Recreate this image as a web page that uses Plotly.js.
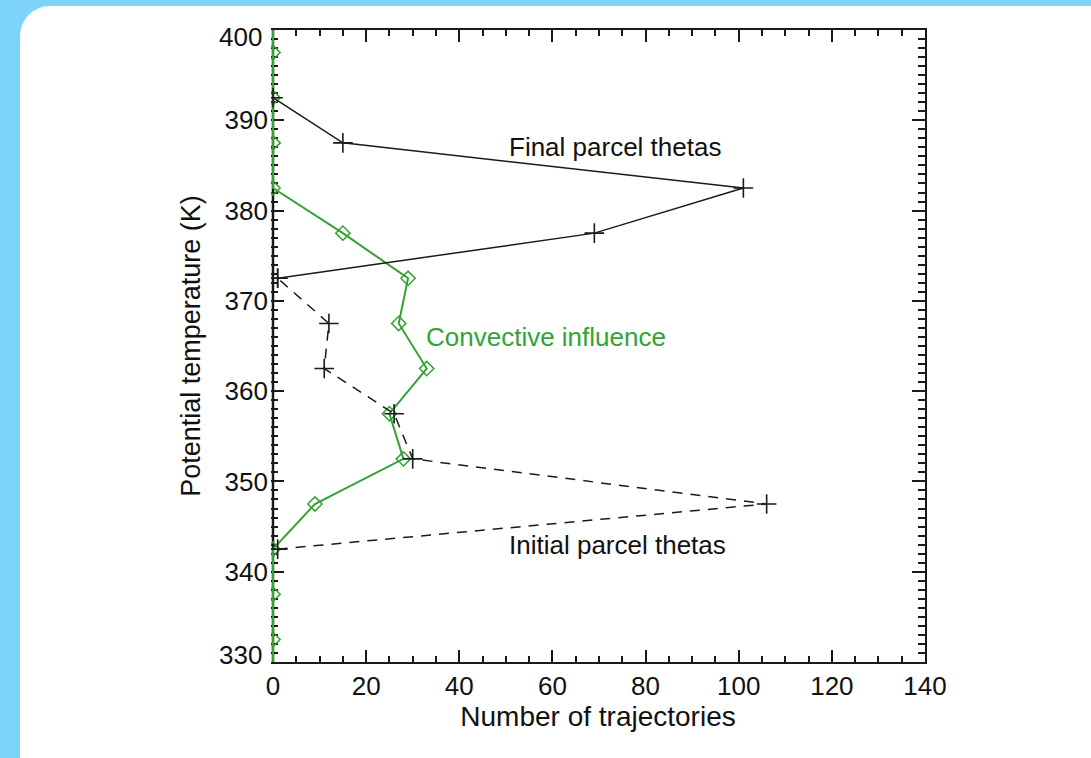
<!DOCTYPE html>
<html>
<head>
<meta charset="utf-8">
<script src="https://cdn.plot.ly/plotly-3.0.1.min.js"></script>
<style>
  html, body { margin:0; padding:0; width:1091px; height:758px; overflow:hidden; background:#7dd3fc; }
  #panel { position:absolute; left:20px; top:6px; width:1100px; height:800px; background:#ffffff; border-radius:30px; }
  #chart { position:absolute; left:0; top:0; width:1091px; height:758px; }
</style>
</head>
<body>
<div id="panel"></div>
<div id="chart"></div>
<script>
// Potential temperature bins (K)
const thetaFinal = [372.5, 377.5, 382.5, 387.5, 392.5];
const countFinal = [1, 69, 101, 15, 0];

const thetaInitial = [342.5, 347.5, 352.5, 357.5, 362.5, 367.5, 372.5];
const countInitial = [1, 106, 30, 26, 11, 12, 1];

const thetaConv = [327.5, 332.5, 337.5, 342.5, 347.5, 352.5, 357.5, 362.5, 367.5, 372.5, 377.5, 382.5, 387.5, 392.5, 397.5, 402.5];
const countConv = [0, 0, 0, 0, 9, 28, 25, 33, 27, 29, 15, 0, 0, 0, 0, 0];

const yTickVals = [330, 340, 350, 360, 370, 380, 390, 400];
const yTickText = ['', '340', '350', '360', '370', '380', '390', ''];
const yEndLabels = ['330', '400'];

const labels = ["Final parcel thetas", "Convective influence", "Initial parcel thetas"];

const GREEN = '#33a333';
const INK = '#1a1a1a';
const FONT = 'Liberation Sans, Arial, sans-serif';
const TICKFONT = { family: FONT, size: 26, color: '#111' };

const traces = [
  { x: countConv, y: thetaConv, mode: 'lines+markers', type: 'scatter',
    line: { color: GREEN, width: 2 },
    marker: { symbol: 'diamond-open', size: 11, color: GREEN, line: { color: GREEN, width: 1.5 } } },
  { x: countFinal, y: thetaFinal, mode: 'lines+markers', type: 'scatter',
    line: { color: INK, width: 1.5 },
    marker: { symbol: 'cross-thin', size: 14, color: INK, line: { color: INK, width: 1.6 } } },
  { x: countInitial, y: thetaInitial, mode: 'lines+markers', type: 'scatter',
    line: { color: INK, width: 1.5, dash: '10px,8px' },
    marker: { symbol: 'cross-thin', size: 14, color: INK, line: { color: INK, width: 1.6 } } },
  // empty trace that activates the right-hand frame axis
  { x: [null], y: [null], yaxis: 'y2', type: 'scatter', mode: 'lines', line: { color: INK }, hoverinfo: 'skip' }
];

const yMinor = { dtick: 1, ticklen: 7, ticks: 'inside', tickcolor: INK, tickwidth: 2 };

const layout = {
  width: 1091, height: 758,
  margin: { l: 271, r: 166, t: 30, b: 96 },
  paper_bgcolor: 'rgba(0,0,0,0)', plot_bgcolor: 'rgba(0,0,0,0)',
  showlegend: false,
  xaxis: {
    range: [-0.43, 140], tickvals: [0, 20, 40, 60, 80, 100, 120, 140],
    showgrid: false, showline: true, linecolor: INK, linewidth: 2, mirror: 'ticks',
    ticks: 'inside', ticklen: 12, tickcolor: INK, tickwidth: 2, layer: 'below traces',
    zeroline: false, tickfont: TICKFONT,
    minor: { tickvals: [5, 10, 15, 25, 30, 35, 45, 50, 55, 65, 70, 75, 85, 90, 95, 105, 110, 115, 125, 130, 135],
             ticklen: 6, ticks: 'inside', tickcolor: INK, tickwidth: 2 },
    title: { text: 'Number of trajectories', font: { family: FONT, size: 28, color: '#111' }, standoff: 2 }
  },
  yaxis: {
    range: [330, 400], tickvals: yTickVals, ticktext: yTickText,
    showgrid: false, zeroline: false, showline: false, mirror: false,
    ticks: 'inside', ticklen: 13, tickcolor: INK, tickwidth: 2, layer: 'below traces',
    tickfont: TICKFONT, ticklabelstandoff: 2, minor: yMinor,
    title: { text: 'Potential temperature (K)', font: { family: FONT, size: 27, color: '#111' }, standoff: 16 }
  },
  yaxis2: {
    overlaying: 'y', side: 'right', range: [330, 400], tickvals: yTickVals,
    showgrid: false, zeroline: false, showline: true, linecolor: INK, linewidth: 2,
    ticks: 'inside', ticklen: 13, tickcolor: INK, tickwidth: 2, showticklabels: false,
    layer: 'below traces', minor: yMinor
  },
  shapes: [
    // left frame edge at zero trajectories, beneath the traces
    { type: 'line', xref: 'x', yref: 'paper', x0: 0, x1: 0, y0: 0, y1: 1, layer: 'below',
      line: { color: INK, width: 2.5 } }
  ],
  annotations: [
    { x: 73.4, y: 387.0, text: labels[0], showarrow: false, font: { family: FONT, size: 26, color: '#111' } },
    { x: 58.6, y: 366.0, text: labels[1], showarrow: false, font: { family: FONT, size: 26, color: GREEN } },
    { x: 74.0, y: 343.0, text: labels[2], showarrow: false, font: { family: FONT, size: 26, color: '#111' } },
    { xref: 'paper', x: 0, y: 330, text: yEndLabels[0], showarrow: false, xanchor: 'right', yanchor: 'middle',
      xshift: -7, yshift: 7, font: TICKFONT },
    { xref: 'paper', x: 0, y: 400, text: yEndLabels[1], showarrow: false, xanchor: 'right', yanchor: 'middle',
      xshift: -7, yshift: -7, font: TICKFONT }
  ]
};

Plotly.newPlot('chart', traces, layout, { staticPlot: true, displayModeBar: false });
</script>
</body>
</html>
